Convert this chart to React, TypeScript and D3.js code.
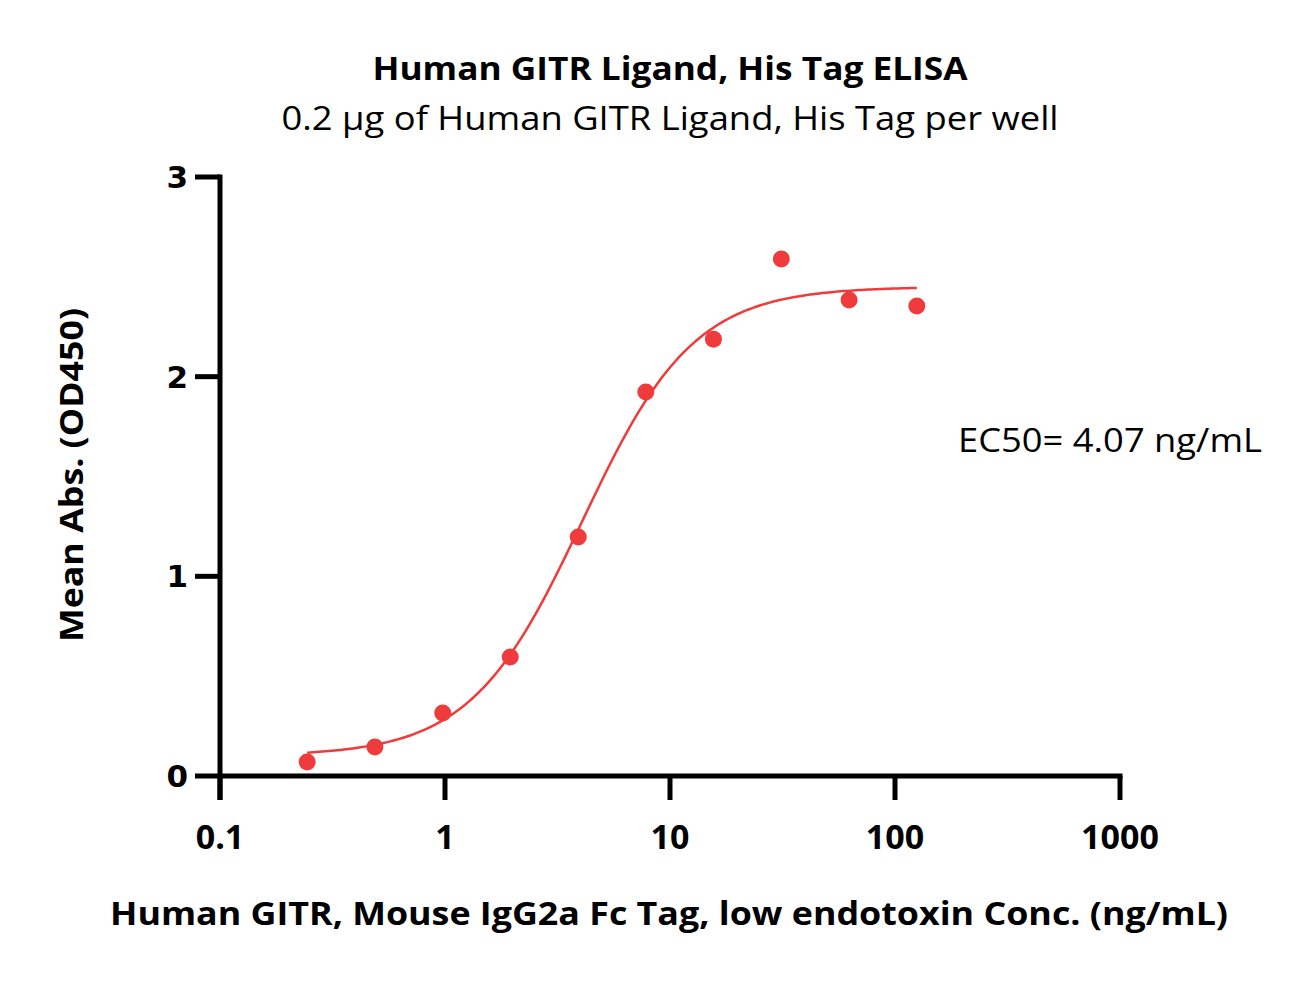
import React from "react";
import * as d3 from "d3";

const concentrations = [0.244, 0.488, 0.977, 1.95, 3.91, 7.81, 15.6, 31.25, 62.5, 125];
const meanAbs = [0.07, 0.145, 0.316, 0.596, 1.197, 1.923, 2.188, 2.589, 2.384, 2.354];
const xTicks = [0.1, 1, 10, 100, 1000];
const xTickLabels = ["0.1", "1", "10", "100", "1000"];
const yTicks = [0, 1, 2, 3];
const yTickLabels = ["0", "1", "2", "3"];

// 4PL fit parameters
const fitBottom = 0.1;
const fitTop = 2.45;
const fitEC50 = 4.07;
const fitHill = 1.75;

const title = "Human GITR Ligand, His Tag ELISA";
const subtitle = "0.2 µg of Human GITR Ligand, His Tag per well";
const ec50Label = "EC50= 4.07 ng/mL";
const xLabel = "Human GITR, Mouse IgG2a Fc Tag, low endotoxin Conc. (ng/mL)";
const yLabel = "Mean Abs. (OD450)";

const RED = "#EF3B3B";
const FONT = "'Open Sans', 'Liberation Sans', sans-serif";

export default function App() {
  const x = d3.scaleLog().domain([0.1, 1000]).range([220, 1120]);
  const y = d3.scaleLinear().domain([0, 3]).range([776, 177]);

  const fit = (c: number) =>
    fitBottom + (fitTop - fitBottom) / (1 + Math.pow(fitEC50 / c, fitHill));
  const lo = Math.log10(concentrations[0]);
  const hi = Math.log10(concentrations[concentrations.length - 1]);
  const curvePts: [number, number][] = d3
    .range(0, 201)
    .map((i) => Math.pow(10, lo + ((hi - lo) * i) / 200))
    .map((c) => [c, fit(c)]);
  const line = d3
    .line<[number, number]>()
    .x((d) => x(d[0]))
    .y((d) => y(d[1]))
    .curve(d3.curveLinear);

  const axisW = 5;

  return (
    <svg
      width={1306}
      height={981}
      style={{ position: "absolute", left: 0, top: 0, background: "#fff" }}
    >
      <rect x={0} y={0} width={1306} height={981} fill="#fff" />
      {/* Titles */}
      <text
        x={670}
        y={80}
        textAnchor="middle"
        fontFamily={FONT}
        fontWeight="bold"
        fontSize={32}
        textLength={595}
        lengthAdjust="spacingAndGlyphs"
      >
        {title}
      </text>
      <text
        x={670}
        y={130}
        textAnchor="middle"
        fontFamily={FONT}
        fontSize={32}
        textLength={777}
        lengthAdjust="spacingAndGlyphs"
      >
        {subtitle}
      </text>

      {/* Y axis */}
      <line x1={220} x2={220} y1={y(3) - axisW / 2} y2={800} stroke="#000" strokeWidth={axisW} />
      {yTicks.map((t, i) => (
        <g key={"yt" + t}>
          <line x1={195} x2={220} y1={y(t)} y2={y(t)} stroke="#000" strokeWidth={axisW} />
          <text
            x={188}
            y={y(t) + 11}
            textAnchor="end"
            fontFamily="'DejaVu Sans', sans-serif"
            fontWeight="bold"
            fontSize={31}
          >
            {yTickLabels[i]}
          </text>
        </g>
      ))}

      {/* X axis */}
      <line x1={220} x2={x(1000) + axisW / 2} y1={776} y2={776} stroke="#000" strokeWidth={axisW} />
      {xTicks.map((t, i) => (
        <g key={"xt" + t}>
          <line x1={x(t)} x2={x(t)} y1={776} y2={800} stroke="#000" strokeWidth={axisW} />
          <text
            x={x(t)}
            y={849}
            textAnchor="middle"
            fontFamily={FONT}
            fontWeight="bold"
            fontSize={34}
          >
            {xTickLabels[i]}
          </text>
        </g>
      ))}

      {/* Fit curve */}
      <path d={line(curvePts) || ""} fill="none" stroke={RED} strokeWidth={2.5} />

      {/* Points */}
      {concentrations.map((c, i) => (
        <circle key={"p" + i} cx={x(c)} cy={y(meanAbs[i])} r={8.5} fill={RED} />
      ))}

      {/* EC50 annotation */}
      <text
        x={958}
        y={452}
        fontFamily={FONT}
        fontSize={32}
        textLength={304}
        lengthAdjust="spacingAndGlyphs"
      >
        {ec50Label}
      </text>

      {/* Axis titles */}
      <text
        x={669}
        y={925}
        textAnchor="middle"
        fontFamily={FONT}
        fontWeight="bold"
        fontSize={32}
        textLength={1118}
        lengthAdjust="spacingAndGlyphs"
      >
        {xLabel}
      </text>
      <text
        transform="translate(83,475) rotate(-90)"
        textAnchor="middle"
        fontFamily={FONT}
        fontWeight="bold"
        fontSize={32}
        textLength={334}
        lengthAdjust="spacingAndGlyphs"
      >
        {yLabel}
      </text>
    </svg>
  );
}
